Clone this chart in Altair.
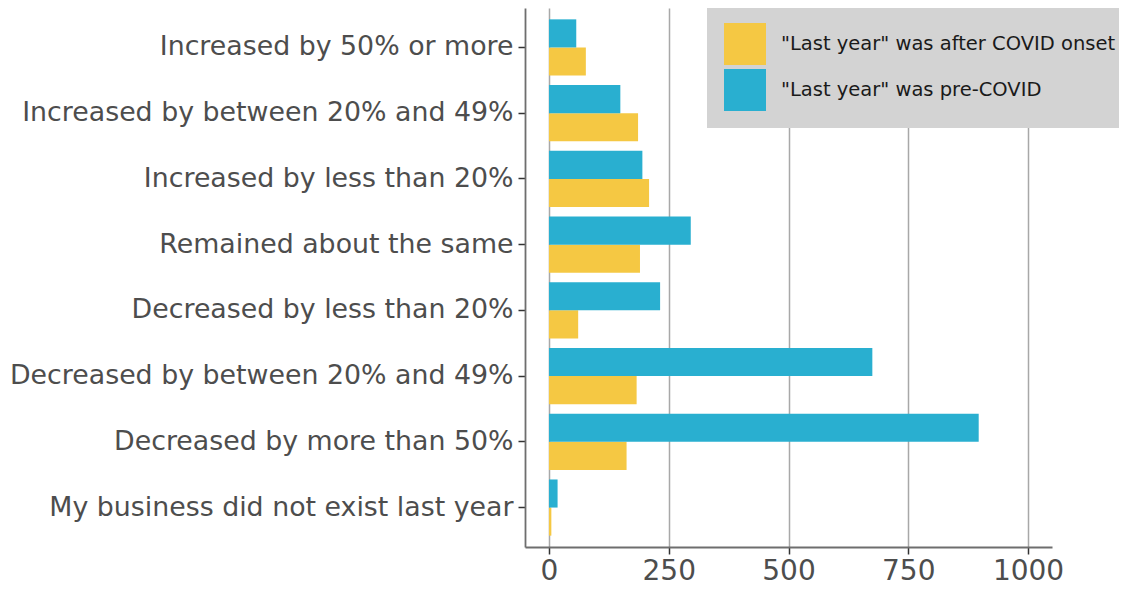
import altair as alt
import pandas as pd

categories = [
    "Increased by 50% or more",
    "Increased by between 20% and 49%",
    "Increased by less than 20%",
    "Remained about the same",
    "Decreased by less than 20%",
    "Decreased by between 20% and 49%",
    "Decreased by more than 50%",
    "My business did not exist last year",
]
series = ['"Last year" was after COVID onset', '"Last year" was pre-COVID']
after_covid = [77, 186, 209, 190, 61, 183, 162, 5]
pre_covid = [57, 149, 195, 296, 232, 675, 897, 18]
x_ticks = [0, 250, 500, 750, 1000]
colors = ["#F5C843", "#29AFD0"]

rows = []
for c, a, p in zip(categories, after_covid, pre_covid):
    rows.append({"category": c, "series": series[0], "value": a})
    rows.append({"category": c, "series": series[1], "value": p})
df = pd.DataFrame(rows)

FONT = "DejaVu Sans"

chart = alt.Chart(df).mark_bar().encode(
    x=alt.X(
        "value:Q",
        scale=alt.Scale(domain=[-50, 1050], nice=False),
        axis=alt.Axis(
            values=x_ticks, format="d", title=None, grid=True, gridColor="#A8A8A8", gridWidth=1.5,
            labelFont=FONT, labelFontSize=28, labelColor="#4D4D4D", labelPadding=3,
            labelFlush=False, tickSize=7, tickColor="#333333", tickWidth=1.5,
            domainColor="#6E6E6E", domainWidth=1.8,
        ),
    ),
    y=alt.Y(
        "category:N", sort=categories,
        scale=alt.Scale(paddingInner=0, paddingOuter=0.1),
        axis=alt.Axis(
            title=None, grid=False, labelFont=FONT, labelFontSize=26.8,
            labelColor="#4D4D4D", labelLimit=600, labelPadding=5,
            tickSize=7, tickColor="#333333", tickWidth=1.5,
            domainColor="#6E6E6E", domainWidth=1.8,
        ),
    ),
    yOffset=alt.YOffset(
        "series:N", sort=[series[1], series[0]],
        scale=alt.Scale(paddingInner=0, paddingOuter=0.17),
    ),
    color=alt.Color(
        "series:N",
        scale=alt.Scale(domain=series, range=colors),
        legend=alt.Legend(
            title=None, orient="none", legendX=182, legendY=-2,
            fillColor="#D3D3D3", padding=17, symbolType="square",
            symbolSize=1764, symbolStrokeWidth=0, symbolOpacity=1,
            labelFont=FONT, labelFontSize=19.5, labelColor="#1A1A1A",
            labelLimit=600, labelOffset=15, rowPadding=4,
        ),
    ),
).properties(
    width=527,
    height=539,
    padding={"left": 517, "top": 0, "right": 67, "bottom": 39},
    autosize=alt.AutoSizeParams(type="none"),
).configure_view(strokeWidth=0)

chart.save("out.html", embed_options={"renderer": "svg", "actions": False})
